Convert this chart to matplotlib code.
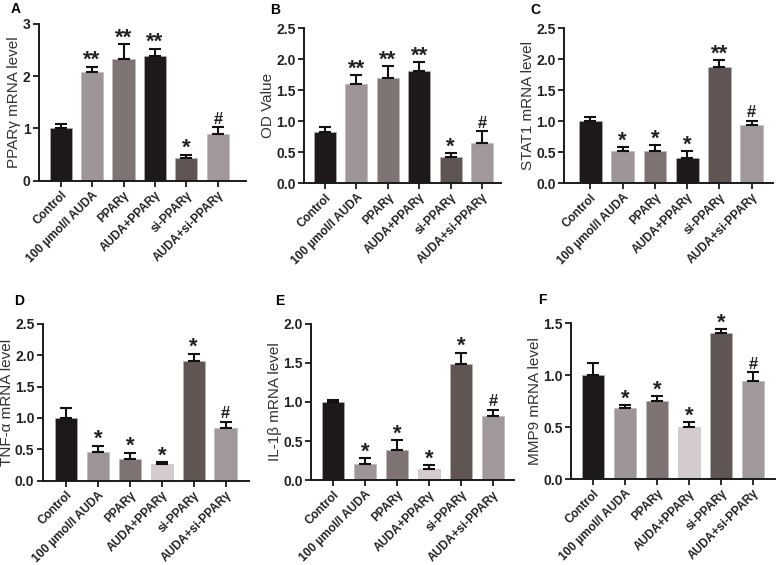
import matplotlib.pyplot as plt

plt.rcParams['font.family'] = ['Liberation Sans', 'DejaVu Sans']

groups = ['Control', '100 µmol/l AUDA', 'PPARγ', 'AUDA+PPARγ', 'si-PPARγ', 'AUDA+si-PPARγ']

# mean values and upper error (SD) per panel
pparg_mean = [1.01, 2.07, 2.33, 2.39, 0.44, 0.90]
pparg_err = [0.07, 0.11, 0.28, 0.13, 0.06, 0.12]
od_mean = [0.82, 1.60, 1.69, 1.81, 0.42, 0.65]
od_err = [0.09, 0.14, 0.20, 0.14, 0.06, 0.19]
stat1_mean = [1.01, 0.52, 0.51, 0.40, 1.88, 0.94]
stat1_err = [0.05, 0.06, 0.10, 0.11, 0.10, 0.07]
tnf_mean = [1.00, 0.46, 0.35, 0.26, 1.91, 0.84]
tnf_err = [0.16, 0.10, 0.10, 0.04, 0.11, 0.10]
il1b_mean = [1.00, 0.21, 0.39, 0.15, 1.49, 0.82]
il1b_err = [0.03, 0.07, 0.12, 0.04, 0.14, 0.08]
mmp9_mean = [1.00, 0.68, 0.75, 0.50, 1.41, 0.94]
mmp9_err = [0.12, 0.03, 0.05, 0.05, 0.03, 0.09]

pparg_sig = ['', '**', '**', '**', '*', '#']
od_sig = ['', '**', '**', '**', '*', '#']
stat1_sig = ['', '*', '*', '*', '**', '#']
tnf_sig = ['', '*', '*', '*', '*', '#']
il1b_sig = ['', '*', '*', '*', '*', '#']
mmp9_sig = ['', '*', '*', '*', '*', '#']

dark = '#1d1819'
mauve = '#9e9597'
mid = '#7e7473'
light = '#d4cccc'
brown = '#5f5654'
pale = '#a09899'
colors_dark = [dark, mauve, mid, dark, brown, pale]
colors_light = [dark, mauve, mid, light, brown, pale]

panels = [
    ('A', 'PPARγ mRNA level', pparg_mean, pparg_err, pparg_sig, [0, 1, 2, 3], ['0', '1', '2', '3'],
     colors_dark, [0.050, 0.680, 0.266, 0.278], (-0.69, 5.89)),
    ('B', 'OD Value', od_mean, od_err, od_sig, [0, 0.5, 1, 1.5, 2, 2.5], ['0.0', '0.5', '1.0', '1.5', '2.0', '2.5'],
     colors_dark, [0.391, 0.676, 0.253, 0.274], (-0.66, 5.6)),
    ('C', 'STAT1 mRNA level', stat1_mean, stat1_err, stat1_sig, [0, 0.5, 1, 1.5, 2, 2.5], ['0.0', '0.5', '1.0', '1.5', '2.0', '2.5'],
     colors_dark, [0.725, 0.676, 0.269, 0.274], (-0.82, 5.67)),
    ('D', 'TNF-α mRNA level', tnf_mean, tnf_err, tnf_sig, [0, 0.5, 1, 1.5, 2, 2.5], ['0.0', '0.5', '1.0', '1.5', '2.0', '2.5'],
     colors_light, [0.055, 0.149, 0.265, 0.278], (-0.73, 5.73)),
    ('E', 'IL-1β mRNA level', il1b_mean, il1b_err, il1b_sig, [0, 0.5, 1, 1.5, 2], ['0.0', '0.5', '1.0', '1.5', '2.0'],
     colors_light, [0.400, 0.150, 0.261, 0.277], (-0.68, 5.67)),
    ('F', 'MMP9 mRNA level', mmp9_mean, mmp9_err, mmp9_sig, [0, 0.5, 1, 1.5], ['0.0', '0.5', '1.0', '1.5'],
     colors_light, [0.734, 0.152, 0.262, 0.276], (-0.69, 5.69)),
]

fig = plt.figure(figsize=(7.78, 5.65), dpi=100)

for letter, ylabel, mean, err, sig, yticks, ylabels, cols, rect, xlim in panels:
    ax = fig.add_axes(rect)
    x = list(range(len(groups)))
    ax.bar(x, mean, width=0.7, color=cols, edgecolor='#bdb5b5', linewidth=0.4, zorder=2)
    ax.errorbar(x, mean, yerr=[[0] * len(err), err], fmt='none', ecolor='#111111',
                elinewidth=1.5, capsize=4.5, capthick=1.5, zorder=3)
    for xi, m, e, s in zip(x, mean, err, sig):
        if s == '#':
            ax.annotate(s, (xi, m + e), xytext=(0, 2.5), textcoords='offset points',
                        ha='center', va='baseline', fontsize=12, fontweight='bold', color='#222222')
        elif s:
            ax.annotate(s, (xi, m + e), xytext=(0, 0.5), textcoords='offset points',
                        ha='center', va='baseline', fontsize=16, fontweight='bold', color='#222222')
    ax.set_xlim(*xlim)
    ax.set_ylim(0, yticks[-1])
    ax.set_yticks(yticks)
    ax.set_yticklabels(ylabels, fontsize=10, fontweight='bold', color='#222222')
    ax.set_xticks(x)
    ax.set_xticklabels(groups, rotation=45, ha='right', rotation_mode='anchor',
                       fontsize=8.6, fontweight='bold', color='#222222')
    ax.set_ylabel(ylabel, fontsize=11, color='#333333', labelpad=1)
    for side in ['top', 'right']:
        ax.spines[side].set_visible(False)
    for side in ['left', 'bottom']:
        ax.spines[side].set_linewidth(1.4)
        ax.spines[side].set_color('#1a1a1a')
    ax.tick_params(axis='both', direction='out', length=4, width=1.3, color='#1a1a1a', pad=2)

label_pos = {'A': (11, 9), 'B': (270, 10), 'C': (530, 10), 'D': (14, 301), 'E': (275, 301), 'F': (538, 300)}
for letter, (px, py) in label_pos.items():
    fig.text(px / 778, 1 - py / 565, letter, fontsize=10, fontweight='bold', ha='left', va='center')

fig.savefig('out.png', dpi=100)
